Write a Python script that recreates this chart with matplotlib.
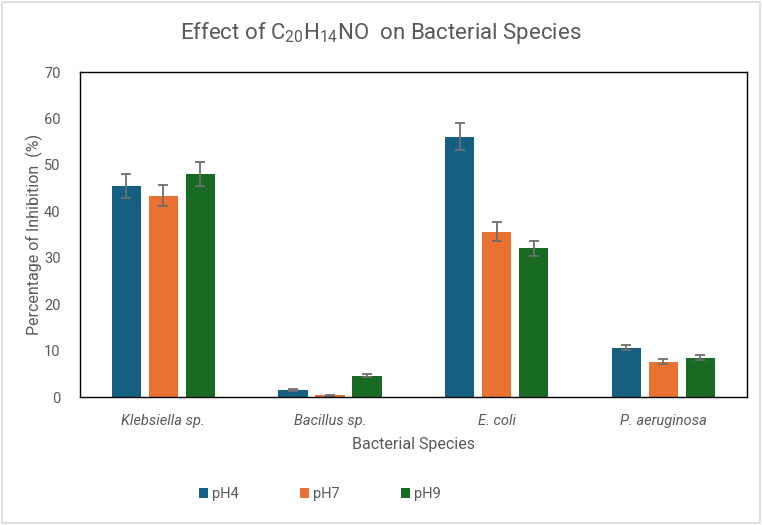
import numpy as np
import matplotlib.pyplot as plt
from matplotlib.patches import Rectangle

plt.rcParams['font.family'] = ['Roboto', 'DejaVu Sans']

species = ['Klebsiella sp.', 'Bacillus sp.', 'E. coli', 'P. aeruginosa']
ph_labels = ['pH4', 'pH7', 'pH9']
ph4 = [45.5, 1.6, 56.1, 10.6]
ph7 = [43.4, 0.35, 35.6, 7.6]
ph9 = [48.0, 4.6, 32.0, 8.5]
ph4_err = [2.6, 0.2, 2.9, 0.5]
ph7_err = [2.3, 0.1, 2.0, 0.5]
ph9_err = [2.6, 0.3, 1.7, 0.5]
colors = ['#156082', '#E97132', '#196B24']

grey = '#595959'

fig = plt.figure(figsize=(7.62, 5.25), dpi=100)
ax = fig.add_axes([0.105, 0.2438, 0.875, 0.619])

x = np.arange(len(species))
width = 0.175
step = 0.222
series = [ph4, ph7, ph9]
errs = [ph4_err, ph7_err, ph9_err]
for i, (vals, err) in enumerate(zip(series, errs)):
    ax.bar(x + (i - 1) * step, vals, width, color=colors[i], label=ph_labels[i],
           yerr=err, capsize=3.5, error_kw=dict(ecolor='#6e6e6e', elinewidth=1.3, capthick=1.3))

ax.set_xlim(-0.5, 3.5)
ax.set_ylim(0, 70)
ax.set_yticks(range(0, 71, 10))
ax.set_xticks(x)
ax.set_xticklabels(species, fontstyle='italic')
ax.tick_params(axis='both', length=0, colors=grey, labelsize=10.5)
ax.tick_params(axis='x', pad=12)
ax.tick_params(axis='y', pad=14)
for s in ax.spines.values():
    s.set_color('black')
    s.set_linewidth(1.0)

ax.set_xlabel('Bacterial Species', color=grey, fontsize=11.5, labelpad=7)
ax.set_ylabel('Percentage of Inhibition  (%)', color=grey, fontsize=11.5, labelpad=1)

fig.text(0.5, 0.937, r'Effect of $\mathregular{C_{20}H_{14}}$NO  on Bacterial Species',
         ha='center', va='center', fontsize=16, color=grey)

fig.legend(loc='center', bbox_to_anchor=(0.42, 0.059), ncol=3, frameon=False,
           handlelength=0.6, handleheight=0.6, handletextpad=0.3, columnspacing=4.2,
           labelcolor=grey, fontsize=10.5)

fig.patches.append(Rectangle((0.002, 0.004), 0.996, 0.992, transform=fig.transFigure,
                             fill=False, edgecolor='#d9d9d9', linewidth=1.2))

fig.savefig('out.png', dpi=100)
